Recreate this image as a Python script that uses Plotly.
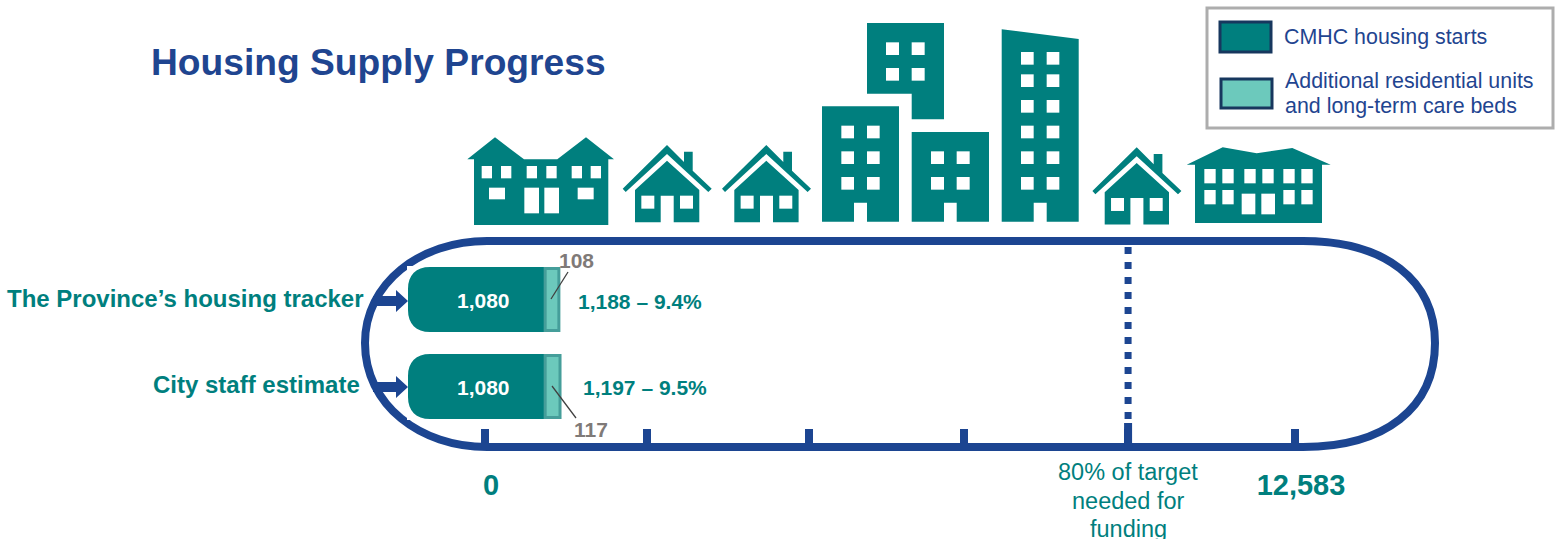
import plotly.graph_objects as go

# ---------- data ----------
categories = ["The Province’s housing tracker", "City staff estimate"]
cmhc_starts = [1080, 1080]
additional_units = [108, 117]
total_labels = ["1,188 – 9.4%", "1,197 – 9.5%"]
series_names = ["CMHC housing starts", "Additional residential units<br>and long-term care beds"]
progress_ticks = [0, 2517, 5033, 7441, 9990, 12583]
progress_ticktext = ["<b>0</b>", "", "", "", "", "<b>12,583</b>"]
funding_tick = 9990
funding_lines = ["80% of target", "needed for", "funding"]
title = "Housing Supply Progress"

# ---------- style ----------
W, H = 1563, 539
TEAL = "#007F7E"
LIGHT = "#6CC9BC"
LIGHT_EDGE = "#459E9A"
NAVY = "#1C4591"
DARK_NAVY = "#17375E"
TITLE_BLUE = "#1F4590"
GREY = "#7F7A78"
FONT = "Liberation Sans, Arial, sans-serif"

BAR_PX = 0.127       # pixels per unit on the bar axis
BAR_ZERO = 408
TRACK_PX = 810 / 12583  # pixels per unit on the progress axis
TRACK_ZERO = 485
ROW0, ROW_STEP = 299.5, 87

fig = go.Figure()

fig.add_trace(go.Bar(
    y=categories, x=cmhc_starts, orientation="h",
    name=series_names[0], width=65 / ROW_STEP,
    marker=dict(color=TEAL, line=dict(width=0)),
    showlegend=False, xaxis="x", yaxis="y"))
fig.add_trace(go.Bar(
    y=categories, x=additional_units, base=cmhc_starts, orientation="h",
    name=series_names[1], width=62 / ROW_STEP,
    marker=dict(color=LIGHT, line=dict(color=LIGHT_EDGE, width=3)),
    showlegend=False, xaxis="x", yaxis="y"))
# invisible trace that binds the progress axis
fig.add_trace(go.Scatter(x=progress_ticks, y=[None] * len(progress_ticks), mode="markers",
                         showlegend=False, xaxis="x2", yaxis="y"))

shapes = []


def P(points):
    return "M " + " L ".join(f"{x:.1f},{y:.1f}" for x, y in points) + " Z"


def poly(points, fill=TEAL, ox=0, oy=0, s=3):
    shapes.append(dict(type="path", xref="x3", yref="y3", line=dict(width=0), fillcolor=fill,
                       path=P([(ox + x / s, oy + y / s) for x, y in points])))


def rect(x0, y0, x1, y1, fill="white", ox=0, oy=0, s=3, line=None, lw=0):
    shapes.append(dict(type="rect", xref="x3", yref="y3", fillcolor=fill,
                       x0=ox + x0 / s, x1=ox + x1 / s, y0=oy + y0 / s, y1=oy + y1 / s,
                       line=dict(width=lw, color=line or fill)))


def windows(xs, ys, ox, oy, w, h):
    for x in xs:
        for y in ys:
            rect(x, y, x + w, y + h, ox=ox, oy=oy)


# big house
ox, oy = 460, 130
poly([(22, 88), (105, 22), (192, 88), (292, 88), (378, 22), (462, 88), (445, 88), (445, 285), (42, 285), (42, 88)], ox=ox, oy=oy)
windows([65, 123, 200, 259, 335, 392], [108], ox, oy, 31, 37)
for r in [(87, 173, 135, 208), (193, 173, 237, 250), (253, 173, 297, 250), (353, 173, 401, 208)]:
    rect(*r, ox=ox, oy=oy)


# small houses
def house(ox, oy):
    poly([(488, 176), (621, 45), (672, 96), (672, 65), (698, 65), (698, 122), (755, 176), (745, 186), (621, 72), (497, 186)], ox=ox, oy=oy)
    poly([(525, 180), (621, 92), (718, 180), (718, 277), (641, 277), (641, 197), (602, 197), (602, 277), (525, 277)], ox=ox, oy=oy)
    windows([544, 660], [197], ox, oy, 39, 39)


house(460, 130)
house(559.3, 130)
house(929.7, 132.3)

# apartment blocks
ox, oy = 810, 15
poly([(171, 24), (402, 24), (402, 313), (305, 313), (305, 236), (171, 236)], ox=ox, oy=oy)
windows([228, 305], [82, 159], ox, oy, 39, 38)
poly([(36, 274), (267, 274), (267, 620), (171, 620), (171, 563), (132, 563), (132, 620), (36, 620)], ox=ox, oy=oy)
windows([94, 171], [332, 409, 486], ox, oy, 38, 38)
poly([(305, 351), (537, 351), (537, 620), (440, 620), (440, 563), (402, 563), (402, 620), (305, 620)], ox=ox, oy=oy)
windows([363, 440], [409, 486], ox, oy, 39, 38)
poly([(575, 43), (806, 72), (806, 620), (710, 620), (710, 563), (671, 563), (671, 620), (575, 620)], ox=ox, oy=oy)
windows([633, 710], [111, 178, 255, 332, 409, 486], ox, oy, 38, 38)

# long low block
ox, oy = 1085, 135
poly([(305, 89), (413, 37), (515, 55), (622, 39), (737, 89), (711, 89), (711, 264), (330, 264), (330, 89)], ox=ox, oy=oy)
windows([358, 412, 478, 532, 595, 649], [102], ox, oy, 34, 43)
windows([358, 412, 595, 649], [165], ox, oy, 34, 43)
rect(470, 176, 511, 238, ox=ox, oy=oy)
rect(529, 176, 570, 238, ox=ox, oy=oy)

# racetrack
shapes.append(dict(
    type="path", xref="x3", yref="y3", line=dict(color=NAVY, width=8), layer="below",
    path="M 487,241 L 1303,241 C 1385,241 1435,280 1435,343 C 1435,408 1385,447 1303,447 "
         "L 487,447 C 420,447 365,405 365,343 C 365,283 420,241 487,241 Z"))

# funding threshold on the progress axis
shapes.append(dict(type="line", xref="x2", yref="y3", x0=funding_tick, x1=funding_tick, y0=247, y1=447,
                   line=dict(color=NAVY, width=7, dash="7px,8px")))
shapes.append(dict(type="line", xref="x2", yref="y3", x0=funding_tick, x1=funding_tick, y0=423, y1=447,
                   line=dict(color=NAVY, width=8)))

# arrows into the bars
for ymid in (301, 387):
    poly([(373, ymid - 5), (396, ymid - 5), (396, ymid - 11), (408, ymid), (396, ymid + 11), (396, ymid + 5), (373, ymid + 5)],
         fill=NAVY, s=1)

# rounded left end of the bars: white corner masks
for i in range(len(categories)):
    top = ROW0 + i * ROW_STEP - 32.5
    bot = top + 65
    for path in (f"M 407,{top - 1} L 430,{top - 1} L 430,{top} C 416,{top} 408,{top + 8} 408,{top + 22} L 407,{top + 22} Z",
                 f"M 407,{bot + 1} L 430,{bot + 1} L 430,{bot} C 416,{bot} 408,{bot - 8} 408,{bot - 22} L 407,{bot - 22} Z"):
        shapes.append(dict(type="path", xref="x3", yref="y3", path=path, fillcolor="white", line=dict(width=0)))

# leader lines
for (x0, y0, x1, y1) in [(568, 272, 551, 299), (552, 386, 576, 418)]:
    shapes.append(dict(type="line", xref="x3", yref="y3", x0=x0, y0=y0, x1=x1, y1=y1,
                       line=dict(color="#404040", width=1.3)))

# legend
rect(1207, 8, 1553, 128, fill="white", s=1, line="#ADADAD", lw=3)
rect(1220, 22, 1271, 52, fill=TEAL, s=1, line=DARK_NAVY, lw=3)
rect(1221, 79, 1272, 108, fill=LIGHT, s=1, line=DARK_NAVY, lw=3)

annotations = []


def text(s, x, y, size, color, anchor="left", xref="x3", xshift=0, bold=False):
    annotations.append(dict(text=f"<b>{s}</b>" if bold else s, x=x, y=y, xref=xref, yref="y3",
                            xanchor=anchor, yanchor="middle", showarrow=False, xshift=xshift,
                            font=dict(family=FONT, size=size, color=color)))


text(title, 149, 62, 37.2, TITLE_BLUE, bold=True)
text(categories[0], 366, 298, 24, TEAL, anchor="right", bold=True)
text(categories[1], 362, 384, 24, TEAL, anchor="right", bold=True)

for i, (v, add, tot) in enumerate(zip(cmhc_starts, additional_units, total_labels)):
    yc = ROW0 + i * ROW_STEP
    annotations.append(dict(text=f"<b>{v:,}</b>", x=v / 2, y=yc + 0.7, xref="x", yref="y3",
                            xshift=7, showarrow=False, font=dict(family=FONT, size=21, color="white")))

text(total_labels[0], 576, 301, 21, TEAL, bold=True)
text(total_labels[1], 581, 387, 21, TEAL, bold=True)
text(str(additional_units[0]), 576, 260, 21, GREY, anchor="center", bold=True)
text(str(additional_units[1]), 591, 429, 21, GREY, anchor="center", bold=True)

for ln, y in zip(funding_lines, (472, 501, 529)):
    text(ln, funding_tick, y, 23.5, TEAL, anchor="center", xref="x2")

text(series_names[0], 1282, 37, 21.4, TITLE_BLUE)
for ln, y in zip(series_names[1].split("<br>"), (81, 106)):
    text(ln, 1283, y, 21.4, TITLE_BLUE)

fig.update_layout(
    width=W, height=H, margin=dict(l=0, r=0, t=0, b=0),
    paper_bgcolor="white", plot_bgcolor="rgba(0,0,0,0)",
    barmode="overlay", showlegend=False, shapes=shapes, annotations=annotations,
    font=dict(family=FONT),
    xaxis=dict(domain=[0, 1], range=[-BAR_ZERO / BAR_PX, (W - BAR_ZERO) / BAR_PX], visible=False),
    xaxis2=dict(domain=[0, 1], overlaying="x", anchor="free", position=1 - 447 / H, side="bottom",
                range=[-TRACK_ZERO / TRACK_PX, (W - TRACK_ZERO) / TRACK_PX],
                tickmode="array", tickvals=progress_ticks, ticktext=progress_ticktext,
                ticks="inside", ticklen=18, tickwidth=8, tickcolor=NAVY,
                showline=False, showgrid=False, zeroline=False,
                ticklabelstandoff=18, ticklabelshift=6,
                tickfont=dict(family=FONT, size=29, color=TEAL)),
    xaxis3=dict(domain=[0, 1], overlaying="x", range=[0, W], visible=False),
    yaxis=dict(domain=[0, 1], type="category", categoryorder="array", categoryarray=categories,
               range=[(H - ROW0) / ROW_STEP, -ROW0 / ROW_STEP], visible=False),
    yaxis3=dict(domain=[0, 1], overlaying="y", range=[H, 0], visible=False),
)
# dummy trace so the pixel-space axes exist
fig.add_trace(go.Scatter(x=[None], y=[None], xaxis="x3", yaxis="y3", showlegend=False))

fig.write_html("out.html", post_script="document.body.style.margin='0';document.body.style.overflow='hidden';",
               config=dict(displayModeBar=False))
